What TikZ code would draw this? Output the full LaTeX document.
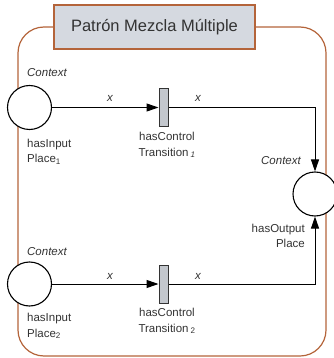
\documentclass[tikz,border=0pt]{standalone}
\usepackage{fontspec}
\setmainfont{Liberation Sans}
\usetikzlibrary{arrows.meta}
\definecolor{frame}{HTML}{B4643A}
\definecolor{titlefill}{HTML}{D5D9E0}
\definecolor{transfill}{HTML}{C3C7CD}
\definecolor{txt}{HTML}{333333}
\begin{document}
\begin{tikzpicture}[x=1pt,y=-1pt,
  place/.style={circle,draw=black,line width=1.1pt,fill=white,minimum size=44pt,inner sep=0pt},
  trans/.style={rectangle,draw=black!80,line width=1pt,fill=transfill,minimum width=9pt,minimum height=38pt,inner sep=0pt},
  arr/.style={line width=1pt,-{Triangle[length=12pt,width=8pt]}},
  lbl/.style={text=txt,inner sep=0pt,font=\fontsize{11.5}{15.5}\selectfont},
  ctx/.style={lbl,font=\fontsize{11.5}{14}\selectfont\itshape},
  xl/.style={lbl,font=\fontsize{11.5}{14}\selectfont\itshape}]
\useasboundingbox (0,0) rectangle (333,358);
\draw[frame,line width=1.2pt,rounded corners=26pt] (18,27) rectangle (326,356);
\node[rectangle,draw=frame,line width=1.2pt,fill=titlefill,minimum width=201pt,minimum height=44pt,inner sep=0pt,text=txt,font=\fontsize{16.5}{18}\selectfont] (title) at (154.5,27) {Patrón Mezcla Múltiple};
\node[place] (p1) at (29.5,107.5) {};
\node[place] (p2) at (29.5,284) {};
\node[place] (po) at (315,194) {};
\node[trans] (t1) at (163.5,107.5) {};
\node[trans] (t2) at (163.5,284) {};
\draw[arr] (p1) -- (t1);
\draw[arr] (p2) -- (t2);
\draw[arr] (t1.east) -| (po.north);
\draw[arr] (t2.east) -| (po.south);
\node[ctx] (c1) at (47,73) {Context};
\node[ctx] (c2) at (47,252) {Context};
\node[ctx] (c3) at (281,161) {Context};
\node[xl] (x1) at (110,98) {x};
\node[xl] (x2) at (198,98) {x};
\node[xl] (x3) at (110,276) {x};
\node[xl] (x4) at (198,276) {x};
\node[lbl,align=left,anchor=west] (l1) at (27,151.5) {hasInput\\Place\textsubscript{1}};
\node[lbl,align=center] (l2) at (167,145) {hasControl\\Transition\,\textsubscript{\itshape 1}};
\node[lbl,align=right,anchor=east] (l3) at (305,236) {hasOutput\\Place};
\node[lbl,align=left,anchor=west] (l4) at (27,326) {hasInput\\Place\textsubscript{2}};
\node[lbl,align=center] (l5) at (167,321) {hasControl\\Transition\,\textsubscript{2}};
\end{tikzpicture}
\end{document}
